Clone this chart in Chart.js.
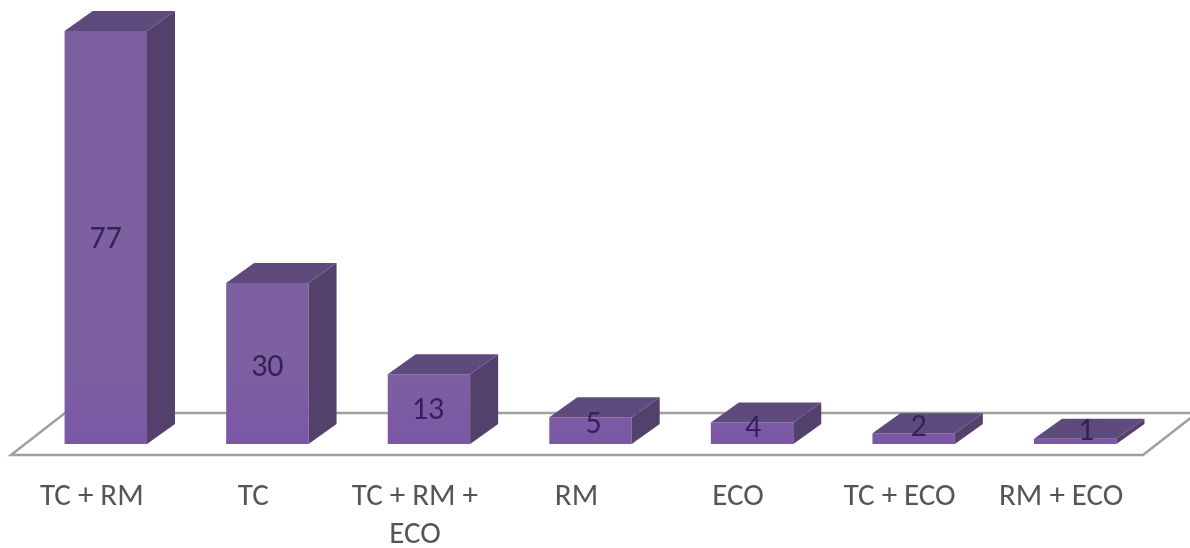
<!DOCTYPE html>
<html>
<head>
<meta charset="utf-8">
<style>
  html, body { margin: 0; padding: 0; background: #fff; }
  #wrap { position: relative; width: 1190px; height: 548px; }
</style>
<script src="https://cdn.jsdelivr.net/npm/chart.js@4"></script>
</head>
<body>
<div id="wrap"><canvas id="chart" width="1190" height="548"></canvas></div>
<script>
const categories = [["TC + RM"], ["TC"], ["TC + RM +", "ECO"], ["RM"], ["ECO"], ["TC + ECO"], ["RM + ECO"]];
const counts = [77, 30, 13, 5, 4, 2, 1];

// Oblique projection used for the extruded bars and the floor.
const DEPTH_X = 28;
const DEPTH_Y = 20;
const FRONT_COLOR = "#7c60a0";
const FRONT_COLOR_LOW = "#7b57a6";
const TOP_COLOR = "#5f4a7e";
const SIDE_COLOR = "#53416b";
const FLOOR_LINE = "#a0a09c";
const TEXT_DARK = "#35215a";
const FONT_STACK = "Carlito, 'Open Sans', 'Liberation Sans', sans-serif";

// Caption shift per bar: short bars carry their number up onto the top face.
const captionShift = [[0, 2], [0, 4], [-1, 2], [3, -6], [1, -4], [5, -11], [11, -9]];

function poly(ctx, pts, fill) {
  ctx.beginPath();
  pts.forEach((p, i) => i ? ctx.lineTo(p[0], p[1]) : ctx.moveTo(p[0], p[1]));
  ctx.closePath();
  if (fill) { ctx.fillStyle = fill; ctx.fill(); }
}

// Floor parallelogram sits under the bars and runs off the right edge.
const floorPlugin = {
  id: "floor",
  beforeDatasetsDraw(chart) {
    const { ctx, scales: { y } } = chart;
    const base = y.getPixelForValue(0);
    const frontY = base + 11;
    const backY = base - 31;
    ctx.save();
    ctx.strokeStyle = FLOOR_LINE;
    ctx.lineWidth = 2.5;
    poly(ctx, [[11, frontY], [1143, frontY], [1197, backY], [65, backY]], "#ffffff");
    ctx.stroke();
    ctx.restore();
  }
};

// Side and top faces, extruded from each bar element's own geometry.
const extrudePlugin = {
  id: "extrude",
  afterDatasetsDraw(chart) {
    const { ctx } = chart;
    const bars = chart.getDatasetMeta(0).data;
    ctx.save();
    bars.forEach((bar) => {
      const l = bar.x - bar.width / 2;
      const r = bar.x + bar.width / 2;
      const t = bar.y;
      const b = bar.base;
      poly(ctx, [[r, t], [r + DEPTH_X, t - DEPTH_Y], [r + DEPTH_X, b - DEPTH_Y], [r, b]], SIDE_COLOR);
      poly(ctx, [[l, t], [l + DEPTH_X, t - DEPTH_Y], [r + DEPTH_X, t - DEPTH_Y], [r, t]], TOP_COLOR);
    });
    ctx.fillStyle = TEXT_DARK;
    ctx.font = "32px " + FONT_STACK;
    ctx.textAlign = "center";
    ctx.textBaseline = "middle";
    bars.forEach((bar, i) => {
      const [dx, dy] = captionShift[i];
      ctx.fillText(String(counts[i]), bar.x + dx, (bar.y + bar.base) / 2 + dy);
    });
    ctx.restore();
  }
};

const ctx = document.getElementById("chart").getContext("2d");
const front = ctx.createLinearGradient(0, 31, 0, 444);
front.addColorStop(0, FRONT_COLOR);
front.addColorStop(0.8, FRONT_COLOR);
front.addColorStop(1, FRONT_COLOR_LOW);

new Chart(ctx, {
  type: "bar",
  data: {
    labels: categories,
    datasets: [{ data: counts, backgroundColor: front, borderWidth: 0, barPercentage: 1, categoryPercentage: 0.51 }]
  },
  plugins: [floorPlugin, extrudePlugin],
  options: {
    responsive: false,
    animation: false,
    layout: { padding: { left: 25, right: 34, top: 31, bottom: 0 } },
    plugins: { legend: { display: false }, tooltip: { enabled: false } },
    scales: {
      y: { display: false, min: 0, max: 77 },
      x: {
        afterFit(scale) { scale.height = 104; },
        grid: { display: false },
        border: { display: false },
        ticks: {
          color: "#555555",
          font: { size: 31, lineHeight: 1.23, family: FONT_STACK },
          maxRotation: 0,
          autoSkip: false,
          labelOffset: -14,
          padding: 26
        }
      }
    }
  }
});
</script>
</body>
</html>
